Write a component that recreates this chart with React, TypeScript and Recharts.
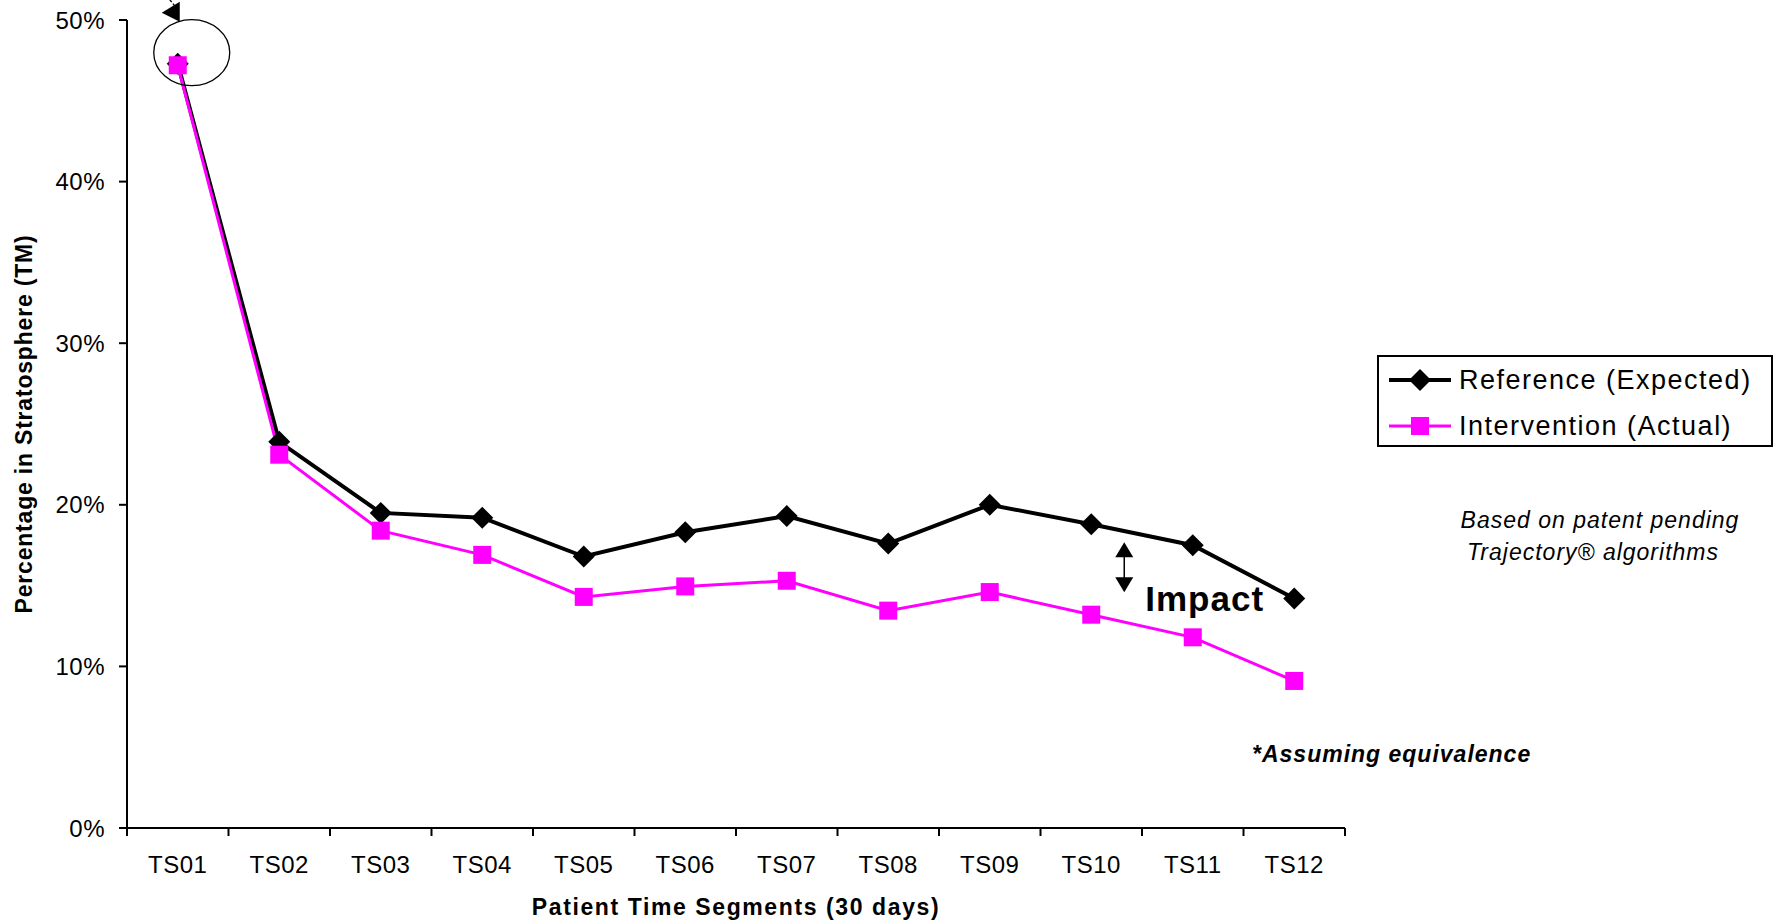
import { LineChart, Line, XAxis, YAxis, Legend, ReferenceDot } from "recharts";

const segments = ["TS01", "TS02", "TS03", "TS04", "TS05", "TS06", "TS07", "TS08", "TS09", "TS10", "TS11", "TS12"];
const referenceExpected = [47.3, 23.9, 19.5, 19.2, 16.8, 18.3, 19.3, 17.6, 20.0, 18.8, 17.5, 14.2];
const interventionActual = [47.2, 23.1, 18.4, 16.9, 14.3, 14.95, 15.3, 13.45, 14.6, 13.2, 11.8, 9.1];
const percentTicks = [0, 10, 20, 30, 40, 50];
const legendOrder = ["reference", "intervention"];

const data = segments.map((ts, i) => ({
  ts,
  reference: referenceExpected[i],
  intervention: interventionActual[i],
}));

const FONT = "'Liberation Sans', Arial, sans-serif";
const MAGENTA = "#FF00FF";

const DiamondDot = (props: any) => {
  const { cx, cy } = props;
  if (cx == null || cy == null) return null;
  const r = 11;
  return (
    <polygon
      points={`${cx},${cy - r} ${cx + r},${cy} ${cx},${cy + r} ${cx - r},${cy}`}
      fill="#000"
    />
  );
};

const SquareDot = (props: any) => {
  const { cx, cy } = props;
  if (cx == null || cy == null) return null;
  return <rect x={cx - 9} y={cy - 9} width={18} height={18} fill={MAGENTA} />;
};

// tick marks sit between the categories, like the old excel chart
const SegmentTick = (props: any) => {
  const { x, y, payload, index, visibleTicksCount } = props;
  const half = payload?.offset || 50.75;
  const last = index === visibleTicksCount - 1;
  return (
    <g>
      <line x1={x - half} x2={x - half} y1={y} y2={y + 8} stroke="#000" strokeWidth={2} />
      {last && <line x1={x + half} x2={x + half} y1={y} y2={y + 8} stroke="#000" strokeWidth={2} />}
      <text
        x={x}
        y={y + 45}
        textAnchor="middle"
        fontFamily={FONT}
        fontSize={24}
        letterSpacing={0.5}
        fill="#000"
      >
        {payload.value}
      </text>
    </g>
  );
};

const YTitle = (props: any) => {
  const vb = props.viewBox || {};
  const cx = (vb.x ?? 0) + 24;
  const cy = (vb.y ?? 20) + (vb.height ?? 808) / 2;
  return (
    <text
      x={cx}
      y={cy}
      transform={`rotate(-90, ${cx}, ${cy})`}
      textAnchor="middle"
      dominantBaseline="central"
      fontFamily={FONT}
      fontWeight="bold"
      fontSize={23}
      letterSpacing={0.8}
      fill="#000"
    >
      Percentage in Stratosphere (TM)
    </text>
  );
};

const XTitle = (props: any) => {
  const vb = props.viewBox || {};
  const cx = (vb.x ?? 127) + (vb.width ?? 1218) / 2;
  const by = (vb.y ?? 828) + 87;
  return (
    <text
      x={cx}
      y={by}
      textAnchor="middle"
      fontFamily={FONT}
      fontWeight="bold"
      fontSize={23}
      letterSpacing={1.6}
      fill="#000"
    >
      Patient Time Segments (30 days)
    </text>
  );
};

const StartCallout = (props: any) => {
  const { cx, cy } = props;
  if (cx == null || cy == null) return null;
  return (
    <g>
      <ellipse cx={cx + 14} cy={cy - 11} rx={38} ry={33} fill="none" stroke="#000" strokeWidth={1.3} />
      <line x1={cx - 8} y1={cy - 64} x2={cx} y2={cy - 54} stroke="#000" strokeWidth={1.3} strokeDasharray="3 2" />
      <polygon points={`${cx - 16},${cy - 51} ${cx + 2},${cy - 62} ${cx + 2},${cy - 42}`} fill="#000" />
    </g>
  );
};

const ImpactCallout = (props: any) => {
  const { cx, cy } = props;
  if (cx == null || cy == null) return null;
  const ax = cx + 33;
  const top = cy + 18;
  const bottom = cy + 68;
  return (
    <g>
      <line x1={ax} x2={ax} y1={top + 10} y2={bottom - 10} stroke="#000" strokeWidth={1.5} />
      <polygon points={`${ax},${top} ${ax + 9},${top + 15} ${ax - 9},${top + 15}`} fill="#000" />
      <polygon points={`${ax},${bottom} ${ax + 9},${bottom - 15} ${ax - 9},${bottom - 15}`} fill="#000" />
      <text
        x={cx + 54}
        y={cy + 87}
        fontFamily={FONT}
        fontWeight="bold"
        fontSize={35}
        letterSpacing={1}
        fill="#000"
      >
        Impact
      </text>
    </g>
  );
};

const LegendBox = (props: any) => {
  const items = [...(props.payload || [])].sort(
    (a: any, b: any) => legendOrder.indexOf(a.dataKey) - legendOrder.indexOf(b.dataKey)
  );
  return (
    <div
      style={{
        border: "2px solid #000",
        boxSizing: "border-box",
        width: "100%",
        height: "100%",
        padding: "4px 0 0 10px",
        background: "#fff",
      }}
    >
      {items.map((entry: any) => {
        const isRef = entry.dataKey === "reference";
        return (
          <div key={entry.value} style={{ display: "flex", alignItems: "center", height: 38, marginBottom: 8 }}>
            <svg width={64} height={24} style={{ marginRight: 6 }}>
              <line x1={0} x2={62} y1={12} y2={12} stroke={isRef ? "#000" : MAGENTA} strokeWidth={isRef ? 4 : 3} />
              {isRef ? (
                <polygon points="31,1 42,12 31,23 20,12" fill="#000" />
              ) : (
                <rect x={22} y={3} width={18} height={18} fill={MAGENTA} />
              )}
            </svg>
            <span style={{ fontFamily: FONT, fontSize: 27, letterSpacing: 1.5, color: "#000", lineHeight: 1 }}>
              {entry.value}
            </span>
          </div>
        );
      })}
    </div>
  );
};

export default function App() {
  return (
    <div style={{ position: "absolute", left: 0, top: 0, width: 1783, height: 923, background: "#fff" }}>
      <LineChart
        width={1783}
        height={923}
        data={data}
        margin={{ top: 20, right: 438, bottom: 0, left: 0 }}
      >
        <XAxis
          dataKey="ts"
          scale="band"
          height={95}
          interval={0}
          axisLine={{ stroke: "#000", strokeWidth: 2 }}
          tickLine={false}
          tickSize={0}
          tickMargin={0}
          tick={<SegmentTick />}
          label={{ content: <XTitle /> }}
        />
        <YAxis
          width={127}
          domain={[0, 50]}
          ticks={percentTicks}
          tickFormatter={(v: number) => `${v}%`}
          axisLine={{ stroke: "#000", strokeWidth: 2 }}
          tickLine={{ stroke: "#000", strokeWidth: 2 }}
          tickSize={8}
          tickMargin={14}
          tick={{ fill: "#000", fontSize: 24, fontFamily: FONT, letterSpacing: 0.5 }}
          label={{ content: <YTitle /> }}
        />
        <Legend
          layout="vertical"
          align="center"
          verticalAlign="middle"
          content={<LegendBox />}
          wrapperStyle={{ left: 1377, top: 355, width: 396, height: 92 }}
        />
        <Line
          dataKey="reference"
          name="Reference (Expected)"
          stroke="#000"
          strokeWidth={4}
          dot={<DiamondDot />}
          activeDot={false}
          isAnimationActive={false}
        />
        <Line
          dataKey="intervention"
          name="Intervention (Actual)"
          stroke={MAGENTA}
          strokeWidth={3}
          dot={<SquareDot />}
          activeDot={false}
          isAnimationActive={false}
        />
        <ReferenceDot x="TS01" y={referenceExpected[0]} shape={<StartCallout />} />
        <ReferenceDot x="TS10" y={referenceExpected[9]} shape={<ImpactCallout />} />
      </LineChart>
      <svg
        width={1783}
        height={923}
        style={{ position: "absolute", left: 0, top: 0, pointerEvents: "none" }}
      >
        <text x={1600} y={528} textAnchor="middle" fontFamily={FONT} fontStyle="italic" fontSize={23} letterSpacing={1} fill="#000">
          Based on patent pending
        </text>
        <text x={1593} y={560} textAnchor="middle" fontFamily={FONT} fontStyle="italic" fontSize={23} letterSpacing={1} fill="#000">
          Trajectory® algorithms
        </text>
        <text x={1252} y={762} fontFamily={FONT} fontStyle="italic" fontWeight="bold" fontSize={23} letterSpacing={1} fill="#000">
          *Assuming equivalence
        </text>
      </svg>
    </div>
  );
}
